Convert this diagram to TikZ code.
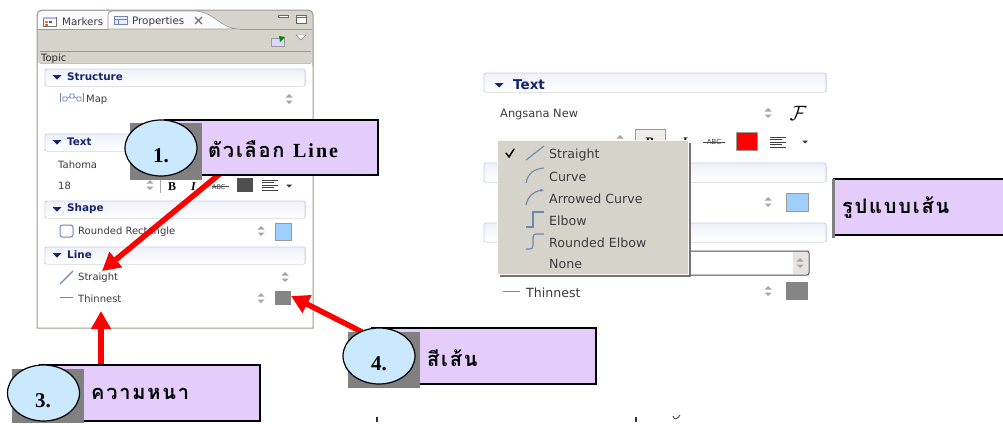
\documentclass[tikz,border=0pt]{standalone}
\usepackage{fontspec}
\setmainfont{DejaVu Sans}
\newfontfamily\thaifont[Script=Thai,LetterSpace=9]{Loma}
\newfontfamily\latinser[LetterSpace=10]{Liberation Serif}
\newfontfamily\numser{Liberation Serif}
\usetikzlibrary{arrows.meta,shapes.geometric}
\definecolor{panelgray}{HTML}{D6D3CA}
\definecolor{edgegray}{HTML}{9C9A90}
\definecolor{callfill}{HTML}{E4CCFB}
\definecolor{bubble}{HTML}{CAE9FF}
\definecolor{shadowgray}{HTML}{808080}
\definecolor{navy}{HTML}{14246E}
\definecolor{swblue}{HTML}{9FCFFF}
\definecolor{swgray}{HTML}{858585}
\definecolor{swdark}{HTML}{4F4F4F}
\definecolor{lineblue}{HTML}{6E86B4}
\definecolor{uitext}{HTML}{3A3A3A}
\definecolor{sectop}{HTML}{EEF1F8}
\tikzset{
  x=1pt,y=-1pt,
  ui/.style={font=\fontsize{10}{11}\selectfont,text=uitext,anchor=west,inner sep=0pt,yshift=-1pt},
  uitab/.style={ui,font=\fontsize{10.3}{12}\selectfont},
  uibig/.style={font=\fontsize{12.6}{14}\selectfont,text=uitext,anchor=west,inner sep=0pt,yshift=-1pt},
  sechead/.style={font=\bfseries\fontsize{10.4}{11}\selectfont,text=navy,anchor=west,inner sep=0pt},
  sechbig/.style={font=\bfseries\fontsize{13.5}{14}\selectfont,text=navy,anchor=west,inner sep=0pt},
  secbox/.style={draw=none,top color=sectop,bottom color=white},
  secedge/.style={draw=sectop!85!blue,line width=.6pt,rounded corners=2pt},
  swatch/.style={draw=edgegray,line width=.7pt},
  icon/.style={draw=lineblue,line width=1.1pt,fill=none},
  callbox/.style={draw=black,line width=1.3pt,fill=callfill},
  callshadow/.style={fill=shadowgray,draw=none},
  callball/.style={draw=black,line width=1.2pt,fill=bubble,ellipse,minimum width=72pt,minimum height=56pt,inner sep=0pt},
  callnum/.style={font=\numser\bfseries\fontsize{21}{22}\selectfont,inner sep=0pt},
  calltext/.style={font=\thaifont\bfseries\fontsize{20}{22}\selectfont,anchor=west,inner sep=0pt},
  redarrow/.style={draw=red,line width=5.5pt,-{Triangle[length=18pt,width=19pt]}},
  spin/.pic={\fill[gray!70] (-3.5,-1.5)--(3.5,-1.5)--(0,-5)--cycle (-3.5,1.5)--(3.5,1.5)--(0,5)--cycle;},
  tri/.pic={\fill[navy] (-4.5,-2)--(4.5,-2)--(0,2.5)--cycle;},
  dn/.pic={\fill[black!80] (-3,-1.5)--(3,-1.5)--(0,1.5)--cycle;},
  alignicon/.pic={\foreach \yy/\ww in {-5/16,-2.5/12,0/16,2.5/12,5/16}{\draw[black!75,line width=.8pt] (0,\yy)--(\ww,\yy);}},
}
\begin{document}
\begin{tikzpicture}
\useasboundingbox (0,0) rectangle (1003,423);
\fill[white] (0,0) rectangle (1003,423);

% ---------- left properties panel
\fill[panelgray,rounded corners=5pt] (37,10) rectangle (313,70);
\fill[white] (38,63) rectangle (312,327);
\fill[white!92!panelgray] (38,29) -- (38,15) .. controls (38,12) and (40,11) .. (43,11) -- (108,11) -- (108,29) -- cycle;
\fill[white!92!panelgray,draw=edgegray,line width=.6pt] (108,29) -- (108,16) .. controls (108,12) and (110,11) .. (115,11) -- (195,11) .. controls (215,12) and (220,29) .. (240,29) -- cycle;
\draw[edgegray,line width=1pt] (37,328) -- (37,15) .. controls (37,12) and (39,10) .. (42,10) -- (308,10) .. controls (311,10) and (313,12) .. (313,15) -- (313,328) -- cycle;
\draw[edgegray,line width=.6pt] (38,29) -- (108,29) (240,29) -- (312,29);
\draw[edgegray,line width=.7pt] (40,51) -- (311,51);
\draw[edgegray!60,line width=.7pt] (40,63) -- (311,63);
\draw[black!55,fill=white] (43,17) rectangle (56,26);
\fill[orange] (45,21) rectangle (48,23); \fill[green!60!black] (49,21) rectangle (52,23); \fill[red!70] (45,24) rectangle (48,26);
\fill[blue!30] (43,17) rectangle (56,19);
\draw[lineblue,fill=blue!8] (114,16) rectangle (127,24);
\draw[lineblue] (114,19) -- (127,19) (118,19) -- (118,24);
\node[uitab] (tabmarkers) at (62,21) {Markers};
\node[uitab] (tabprops) at (132,21) {Properties};
\draw[black!55,line width=1.1pt] (195,17) -- (202,24) (202,17) -- (195,24);
\draw[black!60,fill=white] (278,15) rectangle (288,17.5);
\draw[black!60,fill=white] (296,15) rectangle (306,23); \draw[black!60] (296,17) -- (306,17);
\fill[blue!15,draw=black!40] (271,38) rectangle (284,46);
\fill[green!55!black] (279,36) -- (285,37) -- (280,42) -- cycle;
\draw[black!50,fill=white] (296,35) -- (306,35) -- (301,40) -- cycle;
\node[ui,text=black!85] (topic) at (41,58) {Topic};

\fill[secbox,rounded corners=2pt] (45,69) rectangle (305,86);
\fill[secbox,rounded corners=2pt] (45,134) rectangle (305,151);
\fill[secbox,rounded corners=2pt] (45,201) rectangle (305,218);
\fill[secbox,rounded corners=2pt] (45,247) rectangle (305,264);
\draw[secedge] (45,86) -- (45,69) -- (305,69) -- (305,86);
\draw[secedge] (45,151) -- (45,134) -- (305,134) -- (305,151);
\draw[secedge] (45,218) -- (45,201) -- (305,201) -- (305,218);
\draw[secedge] (45,264) -- (45,247) -- (305,247) -- (305,264);
\pic at (57,77) {tri}; \node[sechead] (lstruct) at (67,77) {Structure};
\pic at (57,142) {tri}; \node[sechead] (ltext) at (67,142) {Text};
\pic at (57,209) {tri}; \node[sechead] (lshape) at (67,209) {Shape};
\pic at (57,255) {tri}; \node[sechead] (lline) at (67,255) {Line};

\draw[lineblue,line width=.7pt] (60,93) -- (60,102) (83,93) -- (83,102);
\draw[lineblue,line width=.7pt] (63,97) rectangle (67,101) (70,94) rectangle (74,98) (77,97) rectangle (81,101) (67,99) -- (70,96) (74,96) -- (77,99);
\node[ui] (lmap) at (86,99) {Map};
\pic at (289,99) {spin};
\node[ui] (ltahoma) at (58,164) {Tahoma};
\node[ui] (l18) at (58,185) {18};
\pic at (150,185) {spin};
\draw[black!35] (160,176) -- (160,193);
\node[ui,font=\numser\bfseries\fontsize{12}{12}\selectfont,text=black] (lb) at (168,186) {B};
\node[ui,font=\numser\bfseries\itshape\fontsize{12}{12}\selectfont,text=black] (li) at (191,186) {I};
\node[ui,font=\fontsize{6.5}{7}\selectfont] (labc) at (212,186) {ABC};
\draw[black!70,line width=.6pt] (212,186) -- (229,186);
\fill[swdark] (237,178) rectangle (253,192);
\pic at (262,185) {alignicon};
\pic at (289,186) {dn};

\draw[lineblue,line width=1pt,rounded corners=2.5pt] (60,225) rectangle (73,237);
\node[ui] (lrr) at (78,231) {Rounded Rectangle};
\pic at (261,231) {spin};
\fill[swblue,draw=edgegray,line width=.7pt] (275,223) rectangle (291,240);
\draw[icon] (60,284) -- (73,271);
\node[ui] (lstraight) at (78,277) {Straight};
\pic at (285,277) {spin};
\draw[lineblue,line width=.7pt] (60,297) -- (73,297);
\node[ui] (lthin) at (78,298) {Thinnest};
\pic at (261,298) {spin};
\fill[swgray] (275,291) rectangle (291,305);
\coordinate (swatchfour) at (291,296);

% ---------- right properties fragment
\fill[secbox,rounded corners=2pt] (484,73) rectangle (826,92);
\fill[secbox,rounded corners=2pt] (484,163) rectangle (826,182);
\fill[secbox,rounded corners=2pt] (484,223) rectangle (826,242);
\draw[secedge] (484,92) -- (484,73) -- (826,73) -- (826,92);
\draw[secedge] (484,182) -- (484,163) -- (826,163) -- (826,182);
\draw[secedge] (484,242) -- (484,223) -- (826,223) -- (826,242);
\pic at (499,85) {tri}; \node[sechbig] (rtext) at (513,85) {Text};
\node[uibig,font=\fontsize{11.4}{14}\selectfont] (rang) at (500,114) {Angsana New};
\pic at (768,113) {spin};
\node[inner sep=0pt,font=\fontsize{20}{20}\selectfont] (rf) at (798,113) {$\mathcal{F}$};
\pic at (768,202) {spin};
\fill[swblue,draw=edgegray,line width=.7pt] (786,193) rectangle (808,211);
\pic at (620,140) {spin};
\draw[black!40,fill=panelgray!40] (635,129) rectangle (665,155);
\node[inner sep=0pt,font=\numser\bfseries\fontsize{13}{13}\selectfont] (rb) at (650,142) {B};
\node[inner sep=0pt,font=\numser\bfseries\itshape\fontsize{13}{13}\selectfont] (ri) at (685,142) {I};
\node[ui,font=\fontsize{7}{7}\selectfont,anchor=center,yshift=1pt] (rabc) at (714,142) {ABC};
\draw[black!70,line width=.6pt] (703,142) -- (725,142);
\fill[red,draw=edgegray,line width=.7pt] (736,132) rectangle (757,150);
\pic at (770,142) {alignicon};
\pic at (805,142) {dn};
\draw[black!70,line width=1pt,rounded corners=2pt,fill=white] (680,251) -- (809,251) -- (809,275) -- (680,275);
\fill[panelgray!60] (793,252) rectangle (808,274);
\pic at (800,263) {spin};
\draw[lineblue,line width=.8pt] (503,291) -- (520,291);
\node[uibig] (rthin) at (526,292) {Thinnest};
\pic at (768,291) {spin};
\fill[swgray] (786,282) rectangle (808,300);

% popup menu
\fill[black!55] (500,143) rectangle (691,277);
\fill[panelgray,draw=white!85!panelgray,line width=.6pt] (497,140) rectangle (688,274);
\draw[black,line width=1.4pt,line cap=round] (506,153) -- (509,157) -- (514,149);
\draw[icon] (526,160) -- (544,146);
\draw[icon] (526,183) .. controls (528,173) and (534,169) .. (544,168);
\draw[icon,-{Stealth[length=4pt]}] (526,205) .. controls (528,196) and (534,191) .. (544,190);
\draw[icon] (526,227) -- (533,227) -- (533,212) -- (544,212);
\draw[icon,rounded corners=3pt] (526,249) -- (533,249) -- (533,234) -- (544,234);
\node[uibig] (mstraight) at (549,154) {Straight};
\node[uibig] (mcurve) at (549,176) {Curve};
\node[uibig] (marrow) at (549,198) {Arrowed Curve};
\node[uibig] (melbow) at (549,220) {Elbow};
\node[uibig] (mround) at (549,242) {Rounded Elbow};
\node[uibig] (mnone) at (549,263) {None};

% ---------- arrows
\coordinate (tipone) at (102,271);
\coordinate (tipthree) at (101,311);
\coordinate (startone) at (222,172);
\coordinate (startthree) at (101,367);
\coordinate (startfour) at (362,332);
\path[redarrow] (startone) -- (tipone);
\path[redarrow] (startthree) -- (tipthree);
\path[redarrow] (startfour) -- (swatchfour);

% ---------- callouts
\draw[callbox] (165,120) rectangle (378,175);
\fill[callshadow] (130,123) rectangle (202,180);
\node[callball] (ballone) at (161,148) {};
\node[callnum] (numone) at (161,156) {1.};
\node[calltext] (textone) at (208,149) {ตัวเลือก {\latinser\bfseries Line}};

\draw[callbox] (40,365) rectangle (260,421);
\fill[callshadow] (12,369) rectangle (84,423);
\node[callball] (ballthree) at (43.5,393) {};
\node[callnum] (numthree) at (43,401) {3.};
\node[calltext] (textthree) at (91,394) {ความหนา};

\draw[callbox] (372,328) rectangle (596,384);
\fill[callshadow] (348,332) rectangle (420,388);
\node[callball] (ballfour) at (379,356) {};
\node[callnum] (numfour) at (379,364) {4.};
\node[calltext] (textfour) at (427,358) {สีเส้น};

\fill[callfill] (833,179) rectangle (1003,235);
\draw[black,line width=1.3pt] (1003,179) -- (833,179) (833,235) -- (1003,235);
\fill[callshadow] (832,179) rectangle (835,238);
\node[calltext] (textform) at (842,208) {รูปแบบเส้น};

% ---------- clipped text remnants at the bottom edge
\fill[black!80] (375.5,417) rectangle (378,422);
\fill[black!80] (634.5,417) rectangle (637,422);
\draw[black!80,line width=.8pt] (673,416) .. controls (674,420) and (677,420) .. (680,415);
\end{tikzpicture}
\end{document}
